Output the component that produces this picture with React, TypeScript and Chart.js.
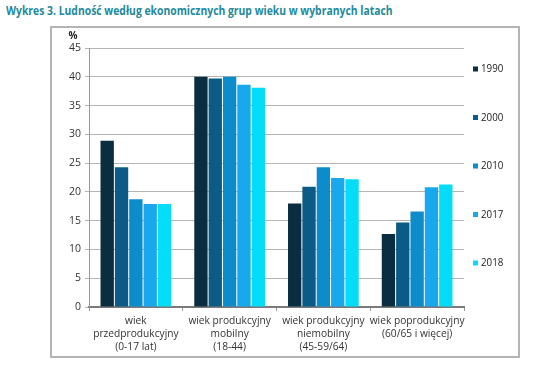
import React, { useEffect, useRef } from "react";
import { Chart, registerables } from "chart.js";
Chart.register(...registerables);

const title = "Wykres 3. Ludność według ekonomicznych grup wieku w wybranych latach";
const categories: string[][] = [
  ["wiek", "przedprodukcyjny", "(0-17 lat)"],
  ["wiek produkcyjny", "mobilny", "(18-44)"],
  ["wiek produkcyjny", "niemobilny", "(45-59/64)"],
  ["wiek poprodukcyjny", "(60/65 i więcej)"],
];
const years = ["1990", "2000", "2010", "2017", "2018"];
const v1990 = [28.9, 40.0, 18.0, 12.7];
const v2000 = [24.3, 39.7, 20.9, 14.7];
const v2010 = [18.7, 40.0, 24.3, 16.6];
const v2017 = [17.9, 38.6, 22.4, 20.8];
const v2018 = [17.9, 38.1, 22.2, 21.3];
const seriesValues = [v1990, v2000, v2010, v2017, v2018];
const colors = ["#0b2d40", "#0b5b86", "#0d8ccb", "#19a7ee", "#05dcf7"];
const yMax = 45;
const yStep = 5;
const yUnit = "%";

const FONT = "'Open Sans', 'Noto Sans', sans-serif";

const legendPlugin = {
  id: "sideLegend",
  afterDraw(chart: any) {
    const ctx = chart.ctx;
    const top = chart.chartArea.top;
    ctx.save();
    ctx.textBaseline = "middle";
    chart.data.datasets.forEach((ds: any, i: number) => {
      const y = top + 21 + i * 48.5;
      ctx.fillStyle = ds.backgroundColor;
      ctx.fillRect(473, y - 2.5, 5, 5);
      ctx.save();
      ctx.translate(481, y);
      ctx.scale(0.85, 1);
      ctx.font = `11.5px ${FONT}`;
      ctx.fillStyle = "#222";
      ctx.textAlign = "left";
      ctx.fillText(ds.label, 0, 0);
      ctx.restore();
    });
    ctx.font = `bold 10px ${FONT}`;
    ctx.textAlign = "center";
    ctx.fillStyle = "#222";
    ctx.fillText(yUnit, 73, top - 12);
    ctx.restore();
  },
};

export default function App() {
  const ref = useRef<HTMLCanvasElement | null>(null);
  useEffect(() => {
    if (!ref.current) return;
    const chart = new Chart(ref.current, {
      type: "bar",
      data: {
        labels: categories,
        datasets: years.map((y, i) => ({
          label: y,
          data: seriesValues[i],
          backgroundColor: colors[i],
          barPercentage: 0.93,
          categoryPercentage: 0.765,
        })),
      },
      options: {
        responsive: false,
        animation: false,
        layout: { padding: { left: 60, top: 48, right: 73, bottom: 0 } },
        plugins: { legend: { display: false }, tooltip: { enabled: false }, title: { display: false } },
        scales: {
          x: {
            grid: { offset: true, drawOnChartArea: false, drawTicks: true, tickLength: 4, color: "#999" },
            border: { color: "#7a7a7a", width: 2 },
            ticks: {
              font: { family: FONT, size: 10.2, lineHeight: "13px" },
              color: "#333",
              padding: 4,
              maxRotation: 0,
              autoSkip: false,
            },
            afterFit: (s: any) => { s.height = 60; },
          },
          y: {
            min: 0,
            max: yMax,
            ticks: { stepSize: yStep, font: { family: FONT, size: 10.5 }, color: "#333", padding: 4 },
            grid: { color: "#b5b5b5", tickLength: 4 },
            border: { color: "#9a9a9a", width: 1 },
            afterFit: (s: any) => { s.width = 29; },
          },
        },
      },
      plugins: [legendPlugin],
    });
    return () => chart.destroy();
  }, []);
  return (
    <div style={{ position: "fixed", left: 0, top: 0, width: 537, height: 367, background: "#fff" }}>
      <div
        style={{
          position: "absolute",
          left: 6,
          top: 2,
          fontFamily: FONT,
          fontWeight: 700,
          fontSize: 12.5,
          color: "#23899b",
          whiteSpace: "nowrap",
          transform: "scaleX(0.83)",
          transformOrigin: "left top",
        }}
      >
        {title}
      </div>
      <div
        style={{
          position: "absolute",
          left: 50,
          top: 26,
          width: 470,
          height: 332,
          boxSizing: "border-box",
          border: "2px solid #b4b4b4",
        }}
      />
      <canvas ref={ref} width={537} height={367} style={{ position: "absolute", left: 0, top: 0 }} />
    </div>
  );
}
